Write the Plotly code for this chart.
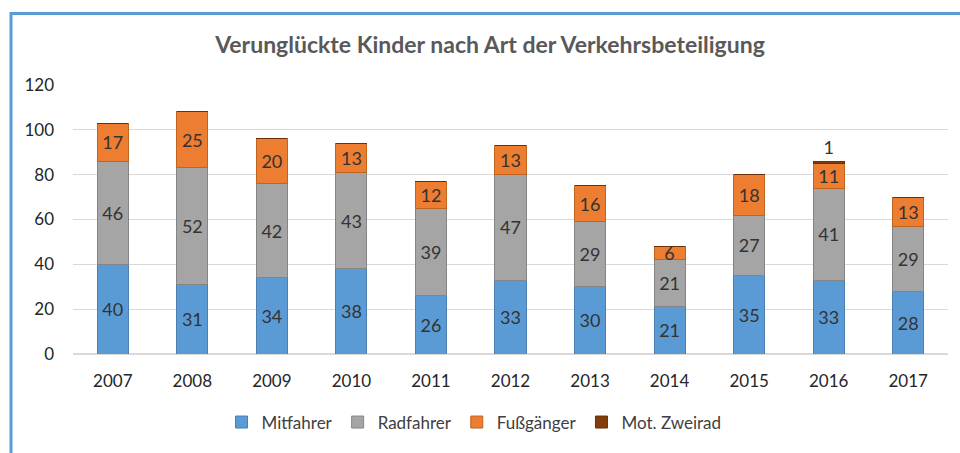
import plotly.graph_objects as go

years = ["2007", "2008", "2009", "2010", "2011", "2012", "2013", "2014", "2015", "2016", "2017"]
mitfahrer = [40, 31, 34, 38, 26, 33, 30, 21, 35, 33, 28]
radfahrer = [46, 52, 42, 43, 39, 47, 29, 21, 27, 41, 29]
fussgaenger = [17, 25, 20, 13, 12, 13, 16, 6, 18, 11, 13]
mot_zweirad = [0, 0, 0, 0, 0, 0, 0, 0, 0, 1, 0]
y_ticks = [0, 20, 40, 60, 80, 100, 120]

FONT = "Lato"
LABEL = dict(family=FONT, size=18, color="#333333")

series = [
    ("Mitfahrer", mitfahrer, "#5B9BD5", "#4A7FB0"),
    ("Radfahrer", radfahrer, "#A5A5A5", "#858585"),
    ("Fußgänger", fussgaenger, "#ED7D31", "#C0651F"),
    ("Mot. Zweirad", mot_zweirad, "#843C0C", "#6A300A"),
]

fig = go.Figure()
for name, vals, col, edge in series:
    last = name == "Mot. Zweirad"
    fig.add_trace(go.Bar(
        x=years, y=vals, name=name,
        marker=dict(color=col, line=dict(color=edge, width=1)),
        text=[(str(v) if v else "") for v in vals],
        textposition="outside" if last else "inside",
        insidetextanchor="middle",
        textangle=0,
        textfont=LABEL,
        outsidetextfont=LABEL,
        insidetextfont=LABEL,
        constraintext="none",
        cliponaxis=False,
        hoverinfo="x+y+name",
    ))

W, H = 960, 453
ml, mr, mt, mb = 73, 12, 85, 97
pw, ph = W - ml - mr, H - mt - mb

fig.update_layout(
    width=W, height=H,
    barmode="stack",
    bargap=0.61,
    margin=dict(l=ml, r=mr, t=mt, b=mb),
    paper_bgcolor="white",
    plot_bgcolor="white",
    font=dict(family=FONT, color="#404040"),
    title=dict(
        text="<b>Verunglückte Kinder nach Art der Verkehrsbeteiligung</b>",
        x=490 / W, xanchor="center", xref="container",
        y=1 - 45 / H, yanchor="middle", yref="container",
        font=dict(family=FONT, size=23, color="#595959"),
    ),
    xaxis=dict(
        showgrid=False, showline=True, linecolor="#D9D9D9", linewidth=1,
        ticks="", tickfont=dict(family=FONT, size=17, color="#262626"),
        ticklabelstandoff=12,
    ),
    yaxis=dict(
        range=[0, 120], tickvals=y_ticks,
        showgrid=True, gridcolor="#D9D9D9", gridwidth=1,
        zeroline=True, zerolinecolor="#D9D9D9",
        showline=False, ticks="",
        tickfont=dict(family=FONT, size=17, color="#262626"),
        ticklabelstandoff=18,
    ),
    legend=dict(
        orientation="h", x=(474 - ml) / pw, xanchor="center",
        y=(H - mb - 425) / ph, yanchor="middle",
        font=dict(family=FONT, size=17, color="#404040"),
        itemwidth=30, traceorder="normal",
    ),
    shapes=[dict(
        type="rect", xref="paper", yref="paper",
        x0=(11 - ml) / pw, x1=(W + 20 - ml) / pw,
        y0=(H - mb - (H + 20)) / ph, y1=(H - mb - 13) / ph,
        line=dict(color="#5B9BD5", width=3), layer="above",
    )],
)

fig.write_html(
    "out.html",
    config={"displayModeBar": False},
    post_script="document.body.style.margin='0';document.body.style.overflow='hidden';",
)
